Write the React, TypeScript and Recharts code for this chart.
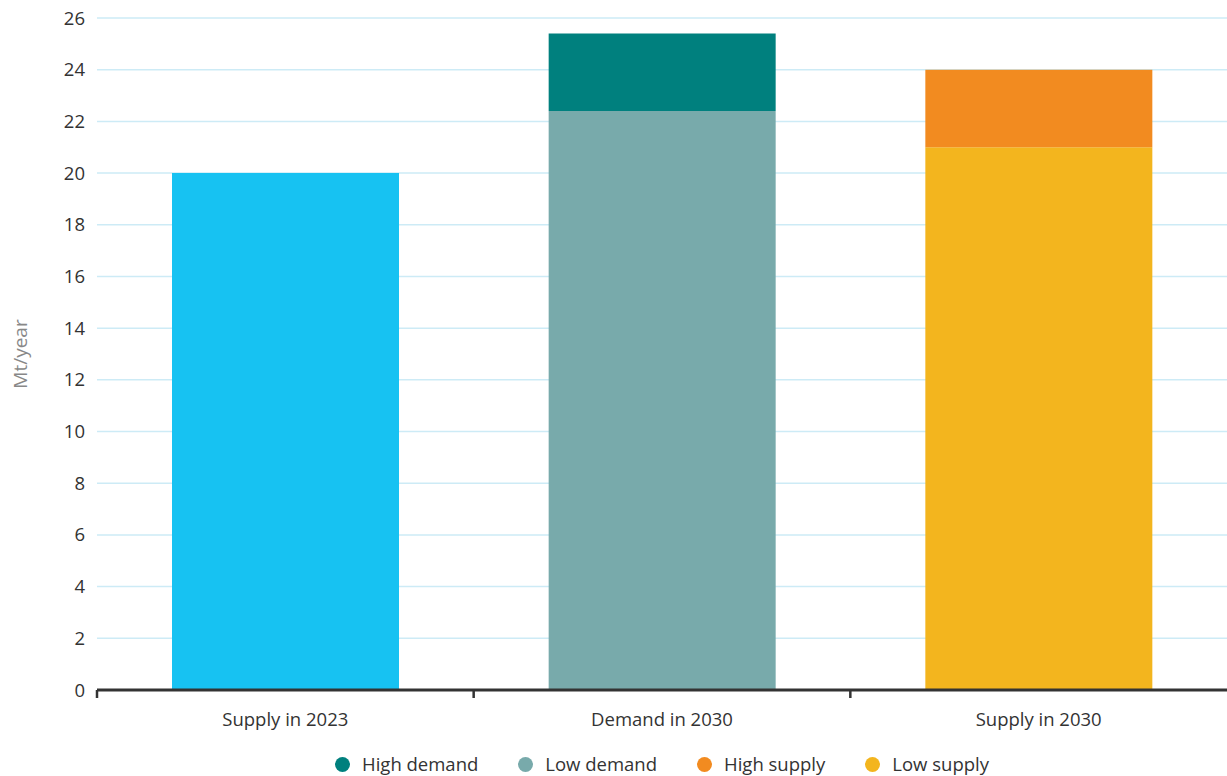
import { BarChart, Bar, XAxis, YAxis, CartesianGrid, Legend } from "recharts";

const categories = ["Supply in 2023", "Demand in 2030", "Supply in 2030"];
const supply2023 = [20, 0, 0];
const lowDemand = [0, 22.4, 0];
const highDemand = [0, 3.0, 0];
const lowSupply = [0, 0, 21];
const highSupply = [0, 0, 3];
const yTicks = [0, 2, 4, 6, 8, 10, 12, 14, 16, 18, 20, 22, 24, 26];
// category boundaries where the x axis has its small tick marks
const bandEdges = [0, 1, 2];

const legendItems = [
  { label: "High demand", color: "#00807e" },
  { label: "Low demand", color: "#78aaab" },
  { label: "High supply", color: "#f28b20" },
  { label: "Low supply", color: "#f3b51e" },
];

const data = categories.map((name, i) => ({
  name,
  edge: i,
  supply2023: supply2023[i],
  lowDemand: lowDemand[i],
  highDemand: highDemand[i],
  lowSupply: lowSupply[i],
  highSupply: highSupply[i],
}));

const FONT = "'Open Sans', sans-serif";

function LegendContent() {
  return (
    <div
      style={{
        display: "flex",
        justifyContent: "center",
        gap: 40,
        fontFamily: FONT,
        fontSize: 18.5,
        lineHeight: "24px",
        color: "#333",
        paddingLeft: 97,
      }}
    >
      {legendItems.map((it) => (
        <div key={it.label} style={{ display: "flex", alignItems: "center" }}>
          <span
            style={{
              width: 15,
              height: 15,
              borderRadius: 8,
              background: it.color,
              display: "inline-block",
              marginRight: 12,
            }}
          />
          {it.label}
        </div>
      ))}
    </div>
  );
}

export default function App() {
  return (
    <div style={{ position: "absolute", left: 0, top: 0, width: 1227, height: 776, background: "#fff" }}>
      <BarChart
        width={1227}
        height={776}
        data={data}
        margin={{ top: 18, right: 0, bottom: 0, left: 0 }}
      >
        <CartesianGrid vertical={false} stroke="#cdebf6" strokeWidth={1.5} xAxisId="b_cat" />
        <XAxis
          xAxisId="a_edge"
          dataKey="edge"
          type="number"
          domain={[0, 3]}
          allowDataOverflow
          ticks={bandEdges}
          height={1}
          tick={() => <g />}
          tickLine={{ stroke: "#333", strokeWidth: 2.5 }}
          tickSize={8}
          axisLine={{ stroke: "#333", strokeWidth: 3 }}
        />
        <XAxis
          xAxisId="b_cat"
          dataKey="name"
          height={61}
          tick={{ fontSize: 18.5, fill: "#333", fontFamily: FONT }}
          tickLine={false}
          axisLine={false}
          interval={0}
          tickMargin={16}
        />
        <YAxis
          width={97}
          domain={[0, 26]}
          ticks={yTicks}
          interval={0}
          axisLine={false}
          tickLine={false}
          tickMargin={6}
          tick={{ fontSize: 18.5, fill: "#333", fontFamily: FONT }}
          label={{
            value: "Mt/year",
            angle: -90,
            position: "insideLeft",
            offset: 20,
            style: { fontSize: 19, fill: "#888", fontFamily: FONT, textAnchor: "middle" },
          }}
        />
        <Legend verticalAlign="bottom" content={<LegendContent />} />
        <Bar dataKey="supply2023" xAxisId="b_cat" stackId="a" fill="#17c2f2" barSize={227} isAnimationActive={false} />
        <Bar dataKey="lowDemand" xAxisId="b_cat" stackId="a" fill="#78aaab" barSize={227} isAnimationActive={false} />
        <Bar dataKey="highDemand" xAxisId="b_cat" stackId="a" fill="#00807e" barSize={227} isAnimationActive={false} />
        <Bar dataKey="lowSupply" xAxisId="b_cat" stackId="a" fill="#f3b51e" barSize={227} isAnimationActive={false} />
        <Bar dataKey="highSupply" xAxisId="b_cat" stackId="a" fill="#f28b20" barSize={227} isAnimationActive={false} />
      </BarChart>
    </div>
  );
}
